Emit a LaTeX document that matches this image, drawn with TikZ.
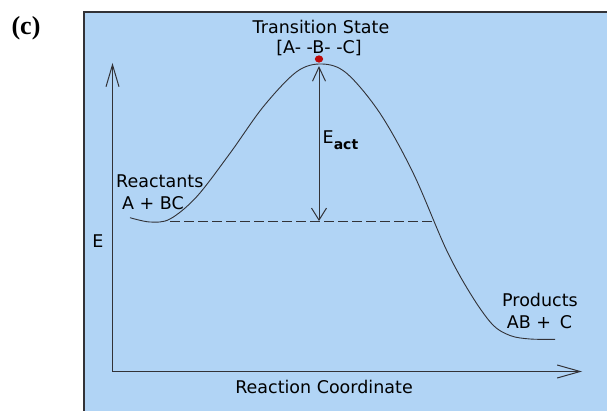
\documentclass[tikz,border=0pt]{standalone}
\usepackage{fontspec}
\setmainfont{DejaVu Sans}
\newfontfamily\labelserif{Liberation Serif}
\usetikzlibrary{arrows.meta}
\definecolor{panelblue}{RGB}{177,212,245}
\definecolor{inkgray}{RGB}{50,50,55}
\definecolor{dotred}{RGB}{190,10,10}
\tikzset{
  txt/.style={inner sep=0pt, text=black, font=\fontsize{17.5}{20}\selectfont},
  axisline/.style={draw=inkgray, line width=1.1pt},
  curveline/.style={draw=inkgray, line width=0.9pt},
  barb/.style={-{Straight Barb[length=#1, width=13pt, line width=1pt]}},
}
\begin{document}
\begin{tikzpicture}[x=1pt, y=-1pt]
\useasboundingbox (0,0) rectangle (607,411);
\fill[white] (0,0) rectangle (607,411);
% panel
\fill[panelblue] (84,12) rectangle (607,411);
\draw[inkgray, line width=1.4pt] (84,411) -- (84,12) -- (607,12);

\node[inner sep=0pt, font={\fontsize{26}{30}\labelserif\bfseries\selectfont}] (lab) at (26,28) {(c)};

% axes
\coordinate (origin) at (112.5,371.5);
\coordinate (ytop) at (112.5,63);
\coordinate (xend) at (582,371.5);
\draw[axisline, barb=22pt] (origin) -- (ytop);
\draw[axisline, barb=23pt] (origin) -- (xend);

% energy curve
\draw[curveline] plot[smooth, tension=0.55] coordinates {
 (130,217.7) (150,222) (170,219) (196.7,196.7) (230,153.3) (263.3,106.7)
 (296.7,71.7) (322,64) (346.7,73.3) (380,113.3) (413.3,173.3) (446,249)
 (470,293) (492,324) (510,335.5) (530,339) (555,339.3)};

% reactant level
\coordinate (rl) at (170,221);
\coordinate (rr) at (433,221);
\draw[inkgray, line width=0.9pt, dash pattern=on 10pt off 4pt] (rl) -- (rr);

% activation energy arrow
\coordinate (ea) at (319,221);
\coordinate (eb) at (319,66);
\draw[axisline, line width=1pt, {Straight Barb[length=12pt, width=15pt, line width=1pt]}-{Straight Barb[length=14pt, width=13pt, line width=1pt]}] (ea) -- (eb);

% transition state dot
\fill[dotred] (319,59) ellipse (4.2pt and 3.6pt);

% labels
\node[txt] (ts) at (321,27) {Transition State};
\node[txt] (tsf) at (319,48) {[A- -B- -C]};
\node[txt, anchor=west] (eact) at (322.5,140) {E\raisebox{-5.5pt}{\fontsize{14}{14}\selectfont\bfseries act}};
\node[txt, anchor=west] (react) at (116,181) {Reactants};
\node[txt, anchor=west] (reactf) at (122,203.5) {A + BC};
\node[txt] (prod) at (540,300) {Products};
\node[txt] (prodf) at (539.5,322) {AB +\hspace{9pt}C};
\node[txt] (elab) at (98,241) {E};
\node[txt] (xlab) at (324,387) {Reaction Coordinate};
\end{tikzpicture}
\end{document}
